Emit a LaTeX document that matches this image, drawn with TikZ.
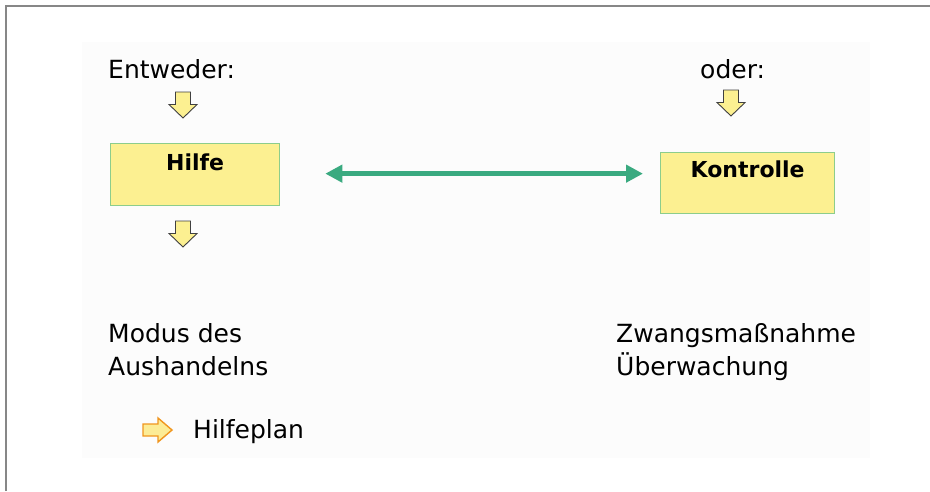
\documentclass[tikz,border=0pt]{standalone}
\usepackage{fontspec}
\setmainfont{DejaVu Sans}
\usetikzlibrary{arrows.meta}
\definecolor{boxfill}{RGB}{252,240,145}
\definecolor{boxline}{RGB}{140,205,140}
\definecolor{arrowgreen}{RGB}{58,170,128}
\definecolor{framegray}{RGB}{135,135,135}
\definecolor{bggray}{RGB}{252,252,252}
\definecolor{orangeline}{RGB}{240,150,30}
\definecolor{lightyellow}{RGB}{252,236,150}
\tikzset{
  txt/.style={inner sep=0pt, anchor=base west, font=\fontsize{25}{33}\selectfont, align=left},
  boxnode/.style={draw=boxline, line width=1.3pt, fill=boxfill, inner xsep=0pt, inner ysep=0pt,
    minimum width=169pt, anchor=north west, font=\bfseries\fontsize{22}{26}\selectfont},
  yarrowstyle/.style={draw=black!75, line width=0.9pt, fill=boxfill, line join=miter},
  pics/downarrow/.style={code={
    \draw[yarrowstyle] (-7.5,0) -- (7.5,0) -- (7.5,12.5) -- (14,12.5) -- (0,26) -- (-14,12.5) -- (-7.5,12.5) -- cycle;}},
  greenarrow/.style={draw=arrowgreen, line width=5pt, {Triangle[length=17pt,width=17pt]}-{Triangle[length=17pt,width=17pt]}}
}
\begin{document}
\begin{tikzpicture}[x=1pt,y=-1pt]
\useasboundingbox (0,0) rectangle (930,491);
\fill[bggray] (82,42) rectangle (870,458);
\draw[framegray, line width=1.3pt] (6,491) -- (6,6) -- (930,6);

\node[txt] (entweder) at (108,78) {Entweder:};
\node[txt] (oder) at (700,78) {oder:};

\pic at (183,92) {downarrow};
\pic at (731,90) {downarrow};
\pic at (183,221) {downarrow};

\node[boxnode, text height=27pt, text depth=35pt] (hilfe) at (110,143) {Hilfe};
\node[boxnode, minimum width=174pt, text height=25pt, text depth=36pt] (kontrolle) at (660,152) {Kontrolle};

\draw[greenarrow] ([xshift=45pt,yshift=1pt]hilfe.east) -- ([xshift=-17pt,yshift=9.5pt]kontrolle.west);

\node[txt] (modus) at (108,375) {Modus des\\Aushandelns};
\node[txt] (zwang) at (616,375) {Zwangsmaßnahme\\Überwachung};

\draw[draw=orangeline, line width=1.4pt, fill=lightyellow, line join=miter]
  (143,424) -- (158,424) -- (158,418) -- (172,430) -- (158,442) -- (158,436) -- (143,436) -- cycle;
\node[txt] (hilfeplan) at (193,438) {Hilfeplan};
\end{tikzpicture}
\end{document}
